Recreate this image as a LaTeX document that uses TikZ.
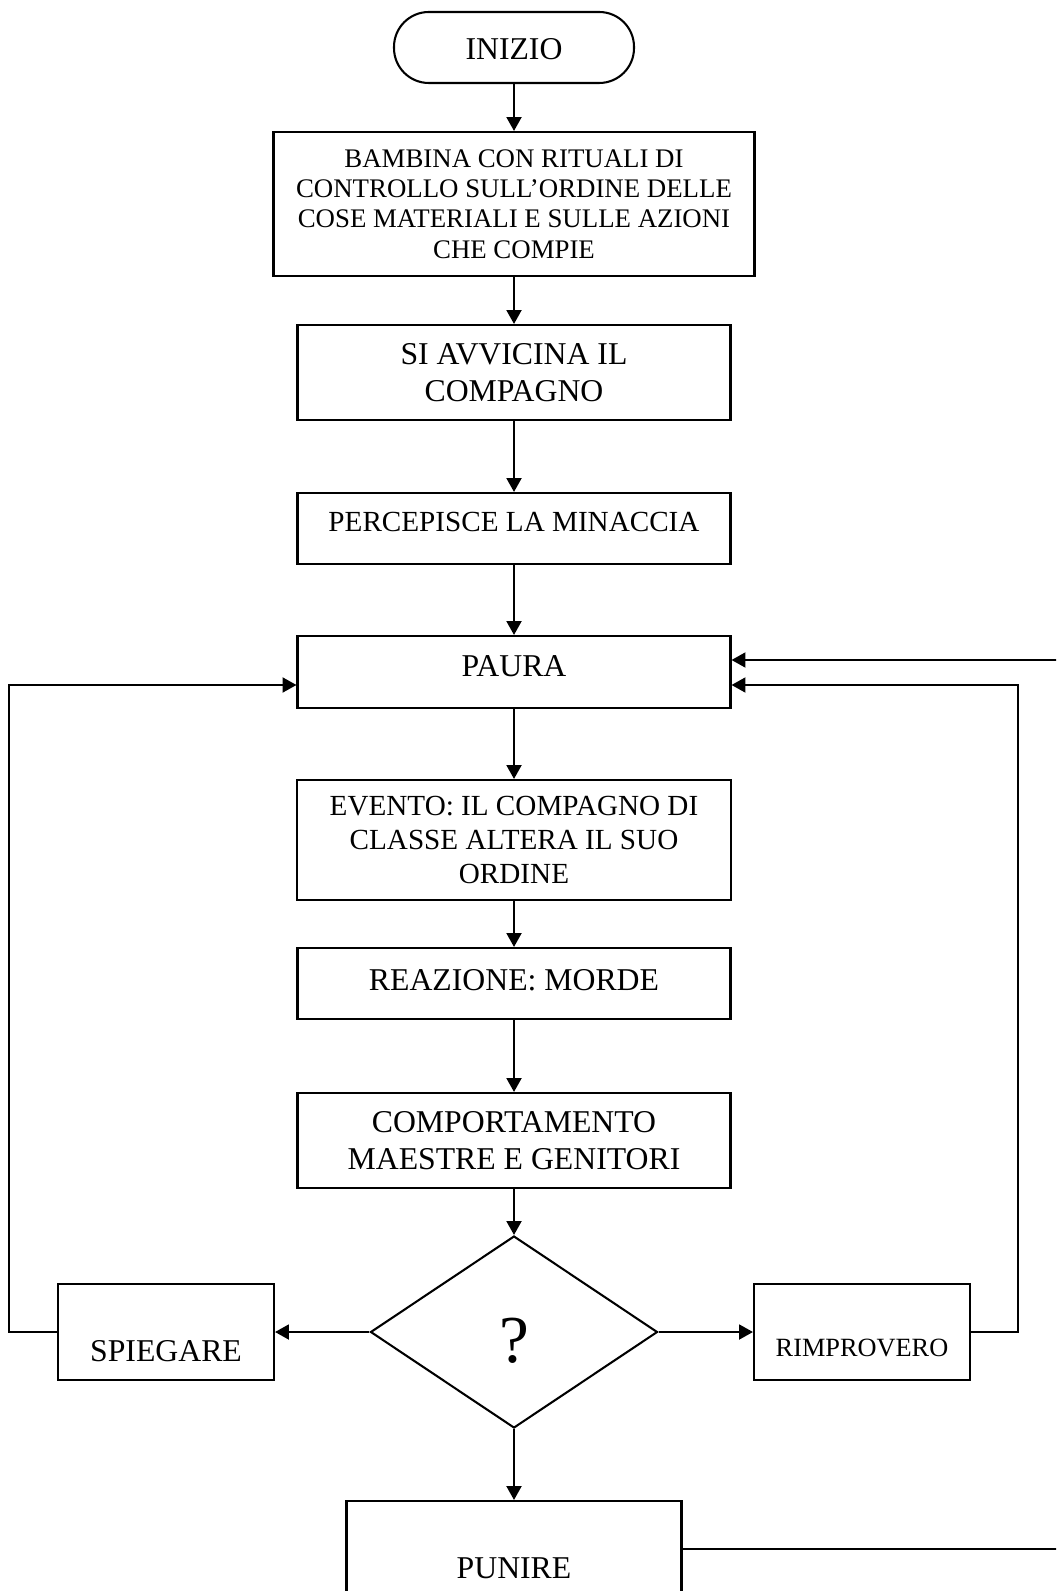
\documentclass[tikz,border=0pt]{standalone}
\usepackage{fontspec}
\setmainfont{Liberation Serif}
\usetikzlibrary{arrows.meta,shapes.geometric,calc}

\begin{document}
\begin{tikzpicture}[x=0.3875pt, y=-0.3875pt, line width=0.8pt,
	box/.style={draw, rectangle, inner sep=0pt, align=center},
	sz/.style 2 args={minimum width=#1*0.3875pt, minimum height=#2*0.3875pt},
	arr/.style={-{Triangle[length=5.4pt, width=5.8pt]}},
	lift/.style={text depth=#1},
	sink/.style={text height=#1, text depth=0pt},
	fbig/.style={font=\fontsize{12.3}{14.4}\selectfont},
	fmid/.style={font=\fontsize{11.3}{13.2}\selectfont},
	fsmall/.style={font=\fontsize{10.4}{11.7}\selectfont},
	ftiny/.style={font=\fontsize{10.2}{12}\selectfont}]

\def\width{1056}
\def\height{1591}
\def\cx{514}

\useasboundingbox (0,0) rectangle (\width,\height);
\clip (0,0) rectangle (\width,\height);

% START
\node[box, rounded corners=13.5pt, sz={240}{71}, fbig, sink=9.3pt] (inizio) at (\cx,47.5) {INIZIO};

% STEPS
\node[box, sz={481}{144}, fsmall] (bambina) at (\cx,204) {BAMBINA CON RITUALI DI\\CONTROLLO SULL’ORDINE DELLE\\COSE MATERIALI E SULLE AZIONI\\CHE COMPIE};
\node[box, sz={433}{95}, fbig] (avvicina) at (\cx,372.5) {SI AVVICINA IL\\COMPAGNO};
\node[box, sz={433}{71}, fmid, lift=5pt] (minaccia) at (\cx,528.5) {PERCEPISCE LA MINACCIA};
\node[box, sz={433}{72}, fbig, lift=4.5pt] (paura) at (\cx,672) {PAURA};
\node[box, sz={434}{120}, fmid] (evento) at (\cx,840) {EVENTO: IL COMPAGNO DI\\CLASSE ALTERA IL SUO\\ORDINE};
\node[box, sz={433}{71}, fbig, lift=3pt] (reazione) at (\cx,983.5) {REAZIONE: MORDE};
\node[box, sz={433}{95}, fbig] (comportamento) at (\cx,1140.5) {COMPORTAMENTO\\MAESTRE E GENITORI};

% CHOICE
\node[diamond, draw, inner sep=0pt, sz={287}{192}, font=\fontsize{26}{30}\selectfont, sink=23.5pt] (scelta) at (\cx,1332) {?};
\node[box, sz={216}{96}, fbig, sink=22.8pt] (spiegare) at (166,1332) {SPIEGARE};
\node[box, sz={216}{96}, ftiny, sink=19pt] (rimprovero) at (862,1332) {RIMPROVERO};
\node[box, sz={335}{96}, fbig, sink=22.8pt] (punire) at (\cx,1549) {PUNIRE};

% FLOW
\draw[arr] (inizio) -- (bambina);
\draw[arr] (bambina) -- (avvicina);
\draw[arr] (avvicina) -- (minaccia);
\draw[arr] (minaccia) -- (paura);
\draw[arr] (paura) -- (evento);
\draw[arr] (evento) -- (reazione);
\draw[arr] (reazione) -- (comportamento);
\draw[arr] (comportamento) -- (scelta);
\draw[arr] (scelta.west) -- (spiegare.east);
\draw[arr] (scelta.east) -- (rimprovero.west);
\draw[arr] (scelta.south) -- (punire.north);

% LOOPS
\coordinate (fuori1) at (\width+5,660);
\coordinate (fuori2) at (\width+5,1549);
\draw[arr] (spiegare.west) -- ++(-48,0) |- ($(paura.west)+(0,13)$);
\draw[arr] (rimprovero.east) -- ++(47,0) |- ($(paura.east)+(0,13)$);
\draw[arr] (fuori1) -- (fuori1 -| paura.east);
\draw (punire.east) -- (fuori2);

\end{tikzpicture}
\end{document}
